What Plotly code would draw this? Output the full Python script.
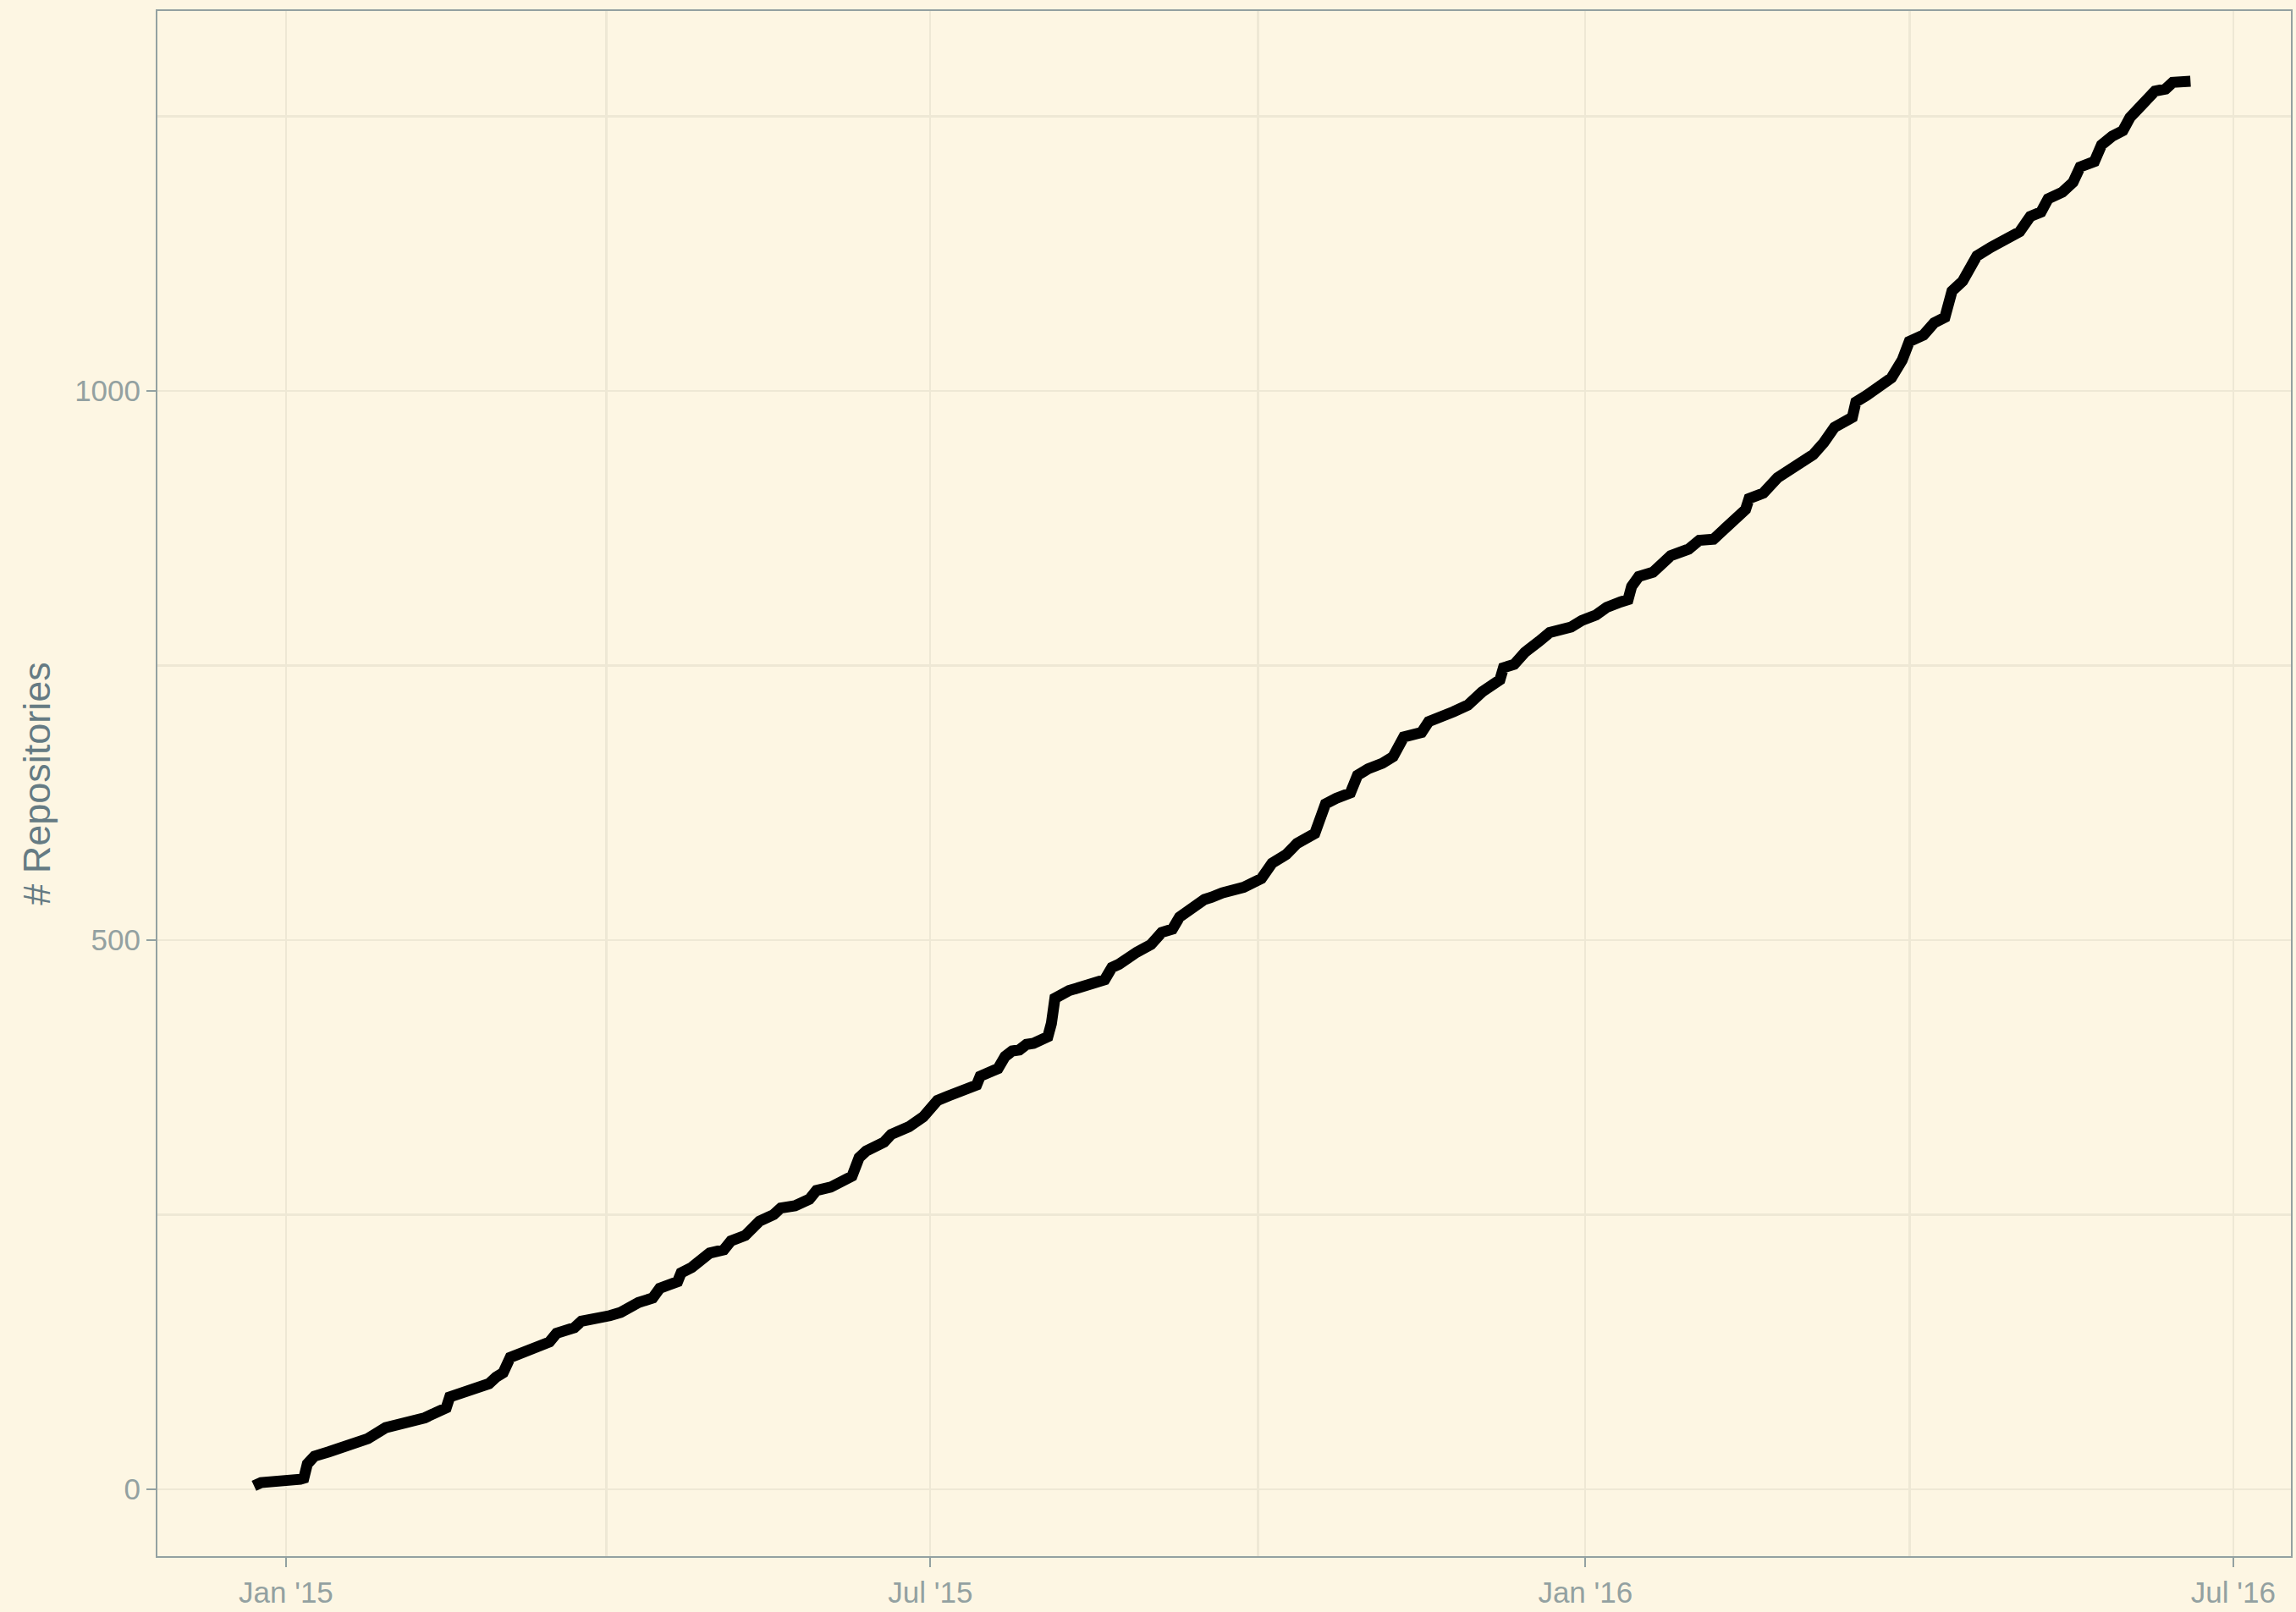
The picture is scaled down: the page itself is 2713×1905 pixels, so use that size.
import plotly.graph_objects as go

dates = [
    "2014-12-23", "2014-12-25", "2015-01-05", "2015-01-06", "2015-01-07", "2015-01-09",
    "2015-01-13", "2015-01-18", "2015-01-21", "2015-01-24", "2015-01-29", "2015-02-03",
    "2015-02-06", "2015-02-09", "2015-02-13", "2015-02-15", "2015-02-16", "2015-02-19",
    "2015-02-23", "2015-02-27", "2015-03-01", "2015-03-03", "2015-03-05", "2015-03-09",
    "2015-03-16", "2015-03-18", "2015-03-23", "2015-03-25", "2015-03-28", "2015-04-02",
    "2015-04-05", "2015-04-10", "2015-04-14", "2015-04-16", "2015-04-21", "2015-04-22",
    "2015-04-25", "2015-04-30", "2015-05-04", "2015-05-06", "2015-05-10", "2015-05-14",
    "2015-05-18", "2015-05-20", "2015-05-24", "2015-05-28", "2015-05-30", "2015-06-03",
    "2015-06-09", "2015-06-11", "2015-06-13", "2015-06-18", "2015-06-20", "2015-06-25",
    "2015-06-29", "2015-07-03", "2015-07-06", "2015-07-10", "2015-07-14", "2015-07-15",
    "2015-07-20", "2015-07-22", "2015-07-24", "2015-07-26", "2015-07-28", "2015-07-30",
    "2015-08-03", "2015-08-04", "2015-08-05", "2015-08-09", "2015-08-13", "2015-08-19",
    "2015-08-21", "2015-08-23", "2015-08-28", "2015-09-01", "2015-09-04", "2015-09-07",
    "2015-09-09", "2015-09-13", "2015-09-16", "2015-09-18", "2015-09-21", "2015-09-27",
    "2015-10-01", "2015-10-02", "2015-10-05", "2015-10-09", "2015-10-12", "2015-10-17",
    "2015-10-18", "2015-10-20", "2015-10-23", "2015-10-27", "2015-10-29", "2015-11-01",
    "2015-11-05", "2015-11-08", "2015-11-11", "2015-11-16", "2015-11-18", "2015-11-23",
    "2015-11-25", "2015-11-29", "2015-12-03", "2015-12-08", "2015-12-09", "2015-12-12",
    "2015-12-15", "2015-12-19", "2015-12-22", "2015-12-28", "2015-12-31", "2016-01-04",
    "2016-01-07", "2016-01-11", "2016-01-13", "2016-01-14", "2016-01-16", "2016-01-20",
    "2016-01-25", "2016-01-30", "2016-02-02", "2016-02-06", "2016-02-11", "2016-02-15",
    "2016-02-16", "2016-02-20", "2016-02-24", "2016-02-27", "2016-03-02", "2016-03-05",
    "2016-03-08", "2016-03-11", "2016-03-16", "2016-03-17", "2016-03-20", "2016-03-24",
    "2016-03-27", "2016-03-30", "2016-04-01", "2016-04-05", "2016-04-08", "2016-04-11",
    "2016-04-13", "2016-04-16", "2016-04-20", "2016-04-24", "2016-04-28", "2016-05-02",
    "2016-05-05", "2016-05-08", "2016-05-10", "2016-05-14", "2016-05-17", "2016-05-19",
    "2016-05-23", "2016-05-25", "2016-05-28", "2016-05-31", "2016-06-02", "2016-06-05",
    "2016-06-09", "2016-06-12", "2016-06-14", "2016-06-19",
]

repositories = [
    3, 6, 9, 10, 23, 30,
    34, 39, 41, 46, 56, 59,
    62, 65, 71, 74, 84, 87,
    91, 96, 102, 106, 120, 126,
    134, 142, 147, 153, 154, 158,
    161, 170, 174, 183, 189, 197,
    202, 215, 218, 226, 231, 244,
    250, 256, 258, 264, 272, 275,
    285, 302, 308, 316, 323, 330,
    339, 354, 358, 363, 368, 376,
    383, 394, 399, 400, 405, 406,
    412, 424, 447, 454, 459, 464,
    475, 478, 489, 496, 507, 510,
    521, 532, 537, 539, 543, 548,
    555, 556, 570, 578, 588, 597,
    606, 624, 629, 634, 650, 656,
    661, 667, 685, 689, 699, 704,
    708, 714, 726, 737, 748, 751,
    762, 772, 780, 785, 791, 796,
    803, 808, 810, 822, 831, 835,
    850, 856, 864, 865, 882, 892,
    902, 907, 921, 927, 937, 942,
    953, 967, 976, 990, 996, 1006,
    1012, 1028, 1045, 1051, 1062, 1067,
    1091, 1100, 1123, 1131, 1137, 1145,
    1159, 1163, 1175, 1181, 1190, 1204,
    1209, 1224, 1232, 1237, 1249, 1260,
    1273, 1275, 1281, 1282,
]

y_title = "# Repositories"

BG = "#FDF6E3"
GRID = "#EEE8D5"
AXIS = "#93a1a1"
TITLE = "#657b83"
FONT = "Liberation Sans, Arial, Helvetica, sans-serif"

fig = go.Figure()
fig.add_trace(go.Scatter(
    x=dates, y=repositories, mode="lines",
    line=dict(color="black", width=13),
    showlegend=False, hoverinfo="x+y",
))

fig.update_layout(
    width=2713, height=1905,
    margin=dict(l=186, r=4, t=13, b=60),
    paper_bgcolor=BG, plot_bgcolor=BG,
    font=dict(family=FONT, color=AXIS),
)

fig.update_xaxes(
    type="date",
    range=["2014-11-25 21:00", "2016-07-17 05:00"],
    tick0="2015-01-01", dtick="M6", tickformat="%b '%y",
    showgrid=True, gridcolor=GRID, gridwidth=2,
    minor=dict(dtick="M3", tick0="2015-01-01", showgrid=True,
               gridcolor=GRID, gridwidth=3, ticks=""),
    ticks="outside", ticklen=11, tickwidth=2, tickcolor=AXIS,
    tickfont=dict(size=35, color=AXIS, family=FONT),
    showline=True, linecolor=AXIS, linewidth=2, mirror=True,
    zeroline=False,
)

fig.update_yaxes(
    range=[-61, 1346],
    tick0=0, dtick=500,
    showgrid=True, gridcolor=GRID, gridwidth=2,
    minor=dict(dtick=250, tick0=0, showgrid=True,
               gridcolor=GRID, gridwidth=3, ticks=""),
    ticks="outside", ticklen=11, tickwidth=2, tickcolor=AXIS,
    tickfont=dict(size=35, color=AXIS, family=FONT),
    showline=True, linecolor=AXIS, linewidth=2, mirror=True,
    zeroline=False,
    title=dict(text=y_title, font=dict(size=45, color=TITLE, family=FONT), standoff=14),
)

fig.write_html(
    "out.html",
    config={"displayModeBar": False},
    post_script="document.body.style.margin='0';document.body.style.padding='0';"
                "document.body.style.background='#FDF6E3';"
                "document.documentElement.style.overflow='hidden';",
)
